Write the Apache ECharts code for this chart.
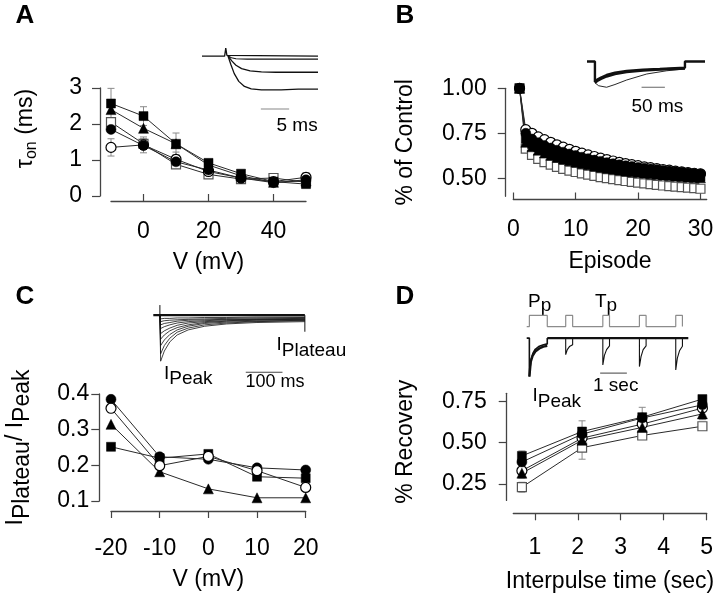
<!DOCTYPE html>
<html><head><meta charset="utf-8">
<script src="https://cdn.jsdelivr.net/npm/echarts@6/dist/echarts.min.js"></script>
<style>html,body{margin:0;padding:0;background:#fff}#c{width:720px;height:596px}</style>
</head><body><div id="c"></div>
<script>
const FONT = "'Liberation Sans', Arial, Helvetica, sans-serif";
const AXIS_COLOR = '#444';
const LINE_COLOR = '#2a2a2a';
const ERR_COLOR = '#8a8a8a';

// ---------- Panel A : tau_on vs V ----------
const aVoltage = [-10, 0, 10, 20, 30, 40, 50];
const aOpenCircle = [1.35, 1.42, 1.02, 0.68, 0.50, 0.40, 0.52];
const aOpenSquare = [2.05, 1.45, 0.88, 0.60, 0.47, 0.50, 0.38];
const aFilledCircle = [1.85, 1.40, 0.95, 0.72, 0.50, 0.37, 0.45];
const aFilledTriangle = [2.40, 1.88, 1.45, 0.86, 0.56, 0.38, 0.42];
const aFilledSquare = [2.57, 2.22, 1.45, 0.92, 0.62, 0.40, 0.33];
const aFilledSquareErr = [0.42, 0.26, 0.30, 0.10, 0.06, 0.05, 0.05];
const aOpenCircleErr = [0.24, 0.22, 0.20, 0.08, 0.05, 0.05, 0.13];
const aOpenSquareErr = [0.12, 0.14, 0.10, 0.05, 0.04, 0.05, 0.04];
const aXTicks = [0, 20, 40];
const aYTicks = [0, 1, 2, 3];

// ---------- Panel B : % of control vs episode ----------
const bEpisode = [1,2,3,4,5,6,7,8,9,10,11,12,13,14,15,16,17,18,19,20,21,22,23,24,25,26,27,28,29,30];
const bOpenSquare = [1.00,0.665,0.63,0.608,0.59,0.576,0.563,0.552,0.543,0.535,0.527,0.52,0.513,0.507,0.501,0.495,0.49,0.485,0.48,0.476,0.472,0.468,0.464,0.46,0.457,0.454,0.451,0.448,0.445,0.442];
const bOpenCircle = [1.00,0.77,0.75,0.73,0.715,0.70,0.686,0.673,0.661,0.65,0.64,0.63,0.621,0.612,0.604,0.596,0.589,0.582,0.576,0.57,0.564,0.559,0.554,0.549,0.545,0.54,0.536,0.532,0.528,0.525];
const bFilledTriangle = [1.00,0.70,0.675,0.656,0.641,0.628,0.617,0.607,0.598,0.59,0.582,0.575,0.568,0.562,0.556,0.551,0.546,0.541,0.537,0.533,0.529,0.525,0.522,0.519,0.516,0.513,0.51,0.507,0.505,0.503];
const bFilledSquare = [1.00,0.72,0.69,0.672,0.657,0.644,0.632,0.621,0.611,0.602,0.594,0.586,0.579,0.572,0.566,0.56,0.555,0.55,0.545,0.541,0.537,0.533,0.529,0.526,0.523,0.52,0.517,0.514,0.511,0.509];
const bFilledCircle = [1.00,0.75,0.718,0.698,0.682,0.668,0.656,0.645,0.635,0.626,0.617,0.609,0.601,0.594,0.587,0.581,0.575,0.57,0.565,0.56,0.556,0.552,0.548,0.544,0.54,0.536,0.533,0.53,0.527,0.524];
const bOpenSquareErr = [0.005,0.02,0.02,0.018,0.018,0.017,0.017,0.016,0.016,0.016,0.015,0.015,0.015,0.015,0.015,0.015,0.015,0.015,0.015,0.015,0.015,0.015,0.015,0.015,0.015,0.015,0.015,0.015,0.015,0.015];
const bFilledErr = [0.005,0.02,0.02,0.02,0.02,0.02,0.02,0.02,0.02,0.02,0.02,0.02,0.02,0.02,0.02,0.02,0.02,0.02,0.02,0.02,0.02,0.02,0.02,0.02,0.02,0.02,0.02,0.02,0.02,0.02];
const bXTicks = [0, 10, 20, 30];
const bYTicks = [0.5, 0.75, 1.0];

// ---------- Panel C : I_plateau / I_peak vs V ----------
const cVoltage = [-20, -10, 0, 10, 20];
const cOpenCircle = [0.36, 0.199, 0.225, 0.185, 0.138];
const cFilledTriangle = [0.315, 0.182, 0.134, 0.109, 0.109];
const cFilledSquare = [0.252, 0.22, 0.232, 0.168, 0.164];
const cFilledCircle = [0.385, 0.224, 0.217, 0.193, 0.187];
const cXTicks = [-20, -10, 0, 10, 20];
const cYTicks = [0.1, 0.2, 0.3, 0.4];

// ---------- Panel D : % recovery vs interpulse time ----------
const dInterval = [0.7, 2.1, 3.5, 4.9];
const dOpenSquare = [0.23, 0.47, 0.544, 0.60];
const dOpenCircle = [0.33, 0.528, 0.613, 0.71];
const dFilledTriangle = [0.315, 0.515, 0.593, 0.675];
const dFilledCircle = [0.383, 0.552, 0.65, 0.73];
const dFilledSquare = [0.42, 0.568, 0.655, 0.765];
const dFilledSquareErr = [0.03, 0.065, 0.06, 0.02];
const dOpenSquareErr = [0.03, 0.07, 0.02, 0.015];
const dTriangleErr = [0.03, 0.03, 0.03, 0.035];
const dXTicks = [1, 2, 3, 4, 5];
const dYTicks = [0.25, 0.5, 0.75];

// ---------- Inset traces (time, relative current) ----------
const aInsetTrace1 = [[0,0],[4.0,0],[4.2,0.24],[4.4,0.02],[4.6,0],[20.5,0]];
const aInsetTrace2 = [[4.6,0],[5.2,-0.05],[6,-0.08],[8,-0.09],[20.5,-0.09]];
const aInsetTrace3 = [[4.6,0],[5.3,-0.15],[6,-0.27],[7,-0.37],[8.5,-0.44],[10.5,-0.47],[13,-0.48],[20.5,-0.48]];
const aInsetTrace4 = [[4.6,0],[5.1,-0.25],[5.7,-0.52],[6.5,-0.75],[7.5,-0.9],[8.7,-0.97],[10.5,-1.0],[14,-1.0],[17,-0.98],[20.5,-0.98]];
const aInsetScaleBar = [[10.4,-1.57],[15.4,-1.57]];

const bInsetThick = [[0,0],[17,0],[17,-0.82],[22,-0.72],[30,-0.64],[42,-0.54],[60,-0.45],[85,-0.38],[120,-0.33],[156,-0.3],[210,-0.25],[210,0],[253,0]];
const bInsetThick2 = [[17,-0.85],[22,-0.78],[30,-0.7],[42,-0.6],[60,-0.5],[85,-0.42],[120,-0.36],[156,-0.32],[210,-0.28]];
const bInsetThin = [[17,-0.85],[25,-0.97],[42,-1.03],[60,-0.92],[85,-0.74],[128,-0.5],[171,-0.37],[210,-0.3]];
const bInsetScaleBar = [[117,-1.03],[167,-1.03]];

const cInsetTimes = [18, 20, 30, 45, 65, 95, 140, 200, 280, 413];
const cInsetTraces = [
  [0,-1.0,-0.78,-0.58,-0.43,-0.32,-0.24,-0.19,-0.16,-0.14],
  [0,-0.84,-0.66,-0.5,-0.37,-0.28,-0.21,-0.17,-0.14,-0.12],
  [0,-0.66,-0.54,-0.42,-0.32,-0.24,-0.18,-0.15,-0.13,-0.11],
  [0,-0.52,-0.43,-0.34,-0.27,-0.21,-0.16,-0.13,-0.11,-0.1],
  [0,-0.4,-0.34,-0.28,-0.22,-0.17,-0.14,-0.12,-0.1,-0.09],
  [0,-0.29,-0.25,-0.21,-0.17,-0.14,-0.12,-0.1,-0.09,-0.08],
  [0,-0.21,-0.18,-0.16,-0.13,-0.11,-0.1,-0.09,-0.08,-0.07],
  [0,-0.14,-0.12,-0.11,-0.1,-0.09,-0.08,-0.07,-0.06,-0.05],
  [0,-0.08,-0.07,-0.07,-0.06,-0.06,-0.05,-0.05,-0.04,-0.04]
];
const cInsetBaseline = [[0,0],[413,0]];
const cInsetOnsetTick = [[18,0.22],[18,0]];
const cInsetPlateauTick = [[413,0],[413,-0.36]];
const cInsetScaleBar = [[252,-1.24],[352,-1.24]];

const dInsetProtocol = [[0,0.3],[0.1,0.3],[0.1,0.59],[0.77,0.59],[0.77,0.3],[1.46,0.3],[1.46,0.59],[1.72,0.59],[1.72,0.3],[2.85,0.3],[2.85,0.59],[3.1,0.59],[3.1,0.3],[4.22,0.3],[4.22,0.59],[4.47,0.59],[4.47,0.3],[5.58,0.3],[5.58,0.59],[5.83,0.59],[5.83,0.3]];
const dInsetConditioning = [[0,0],[0.1,0],[0.1,-1.0],[0.13,-0.74],[0.17,-0.55],[0.23,-0.4],[0.32,-0.29],[0.45,-0.22],[0.6,-0.18],[0.77,-0.15],[0.77,0]];
const dInsetConditioning2 = [[0.1,-1.0],[0.15,-0.62],[0.22,-0.46],[0.32,-0.35],[0.47,-0.27],[0.62,-0.22],[0.77,-0.2]];
const dInsetBaseline = [[0.77,0],[6.05,0]];
const dInsetTest1 = [[1.46,0],[1.46,-0.43],[1.52,-0.3],[1.6,-0.22],[1.72,-0.17],[1.72,0]];
const dInsetTest2 = [[2.85,0],[2.85,-0.70],[2.91,-0.45],[2.99,-0.3],[3.1,-0.2],[3.1,0]];
const dInsetTest3 = [[4.22,0],[4.22,-0.74],[4.28,-0.48],[4.36,-0.3],[4.47,-0.2],[4.47,0]];
const dInsetTest4 = [[5.58,0],[5.58,-0.83],[5.64,-0.52],[5.72,-0.33],[5.83,-0.21],[5.83,0]];
const dInsetScaleBar = [[2.75,-0.91],[3.75,-0.91]];

// ---------- helpers ----------
const zip = (xs, ys) => xs.map((x, i) => [x, ys[i]]);

function xAx(gi, min, max, ticks, offset, inside, margin, name, nameGap, fmt) {
  return {
    gridIndex: gi, type: 'value', position: 'bottom', min: min, max: max, offset: offset,
    axisLine: { show: true, onZero: false, lineStyle: { color: AXIS_COLOR, width: 1.3 } },
    axisTick: { show: true, inside: inside, length: 7, customValues: ticks, lineStyle: { color: AXIS_COLOR, width: 1.2 } },
    axisLabel: { show: true, customValues: ticks, margin: margin, formatter: fmt, fontSize: 23, lineHeight: 23, color: '#000', fontFamily: FONT },
    splitLine: { show: false }, minorTick: { show: false },
    name: name, nameLocation: 'middle', nameGap: nameGap, nameMoveOverlap: false,
    nameTextStyle: { fontSize: 23, lineHeight: 23, color: '#000', fontFamily: FONT }
  };
}
function yAx(gi, min, max, ticks, offset, margin, name, nameGap, fmt, nameStyle) {
  return {
    gridIndex: gi, type: 'value', position: 'left', min: min, max: max, offset: offset,
    axisLine: { show: true, onZero: false, lineStyle: { color: AXIS_COLOR, width: 1.3 } },
    axisTick: { show: true, inside: false, length: 8, customValues: ticks, lineStyle: { color: AXIS_COLOR, width: 1.2 } },
    axisLabel: { show: true, customValues: ticks, margin: margin, formatter: fmt, fontSize: 23, lineHeight: 23, color: '#000', fontFamily: FONT },
    splitLine: { show: false }, minorTick: { show: false },
    name: name, nameLocation: 'middle', nameGap: nameGap, nameMoveOverlap: false,
    nameTextStyle: Object.assign({ fontSize: 23, lineHeight: 23, color: '#000', fontFamily: FONT }, nameStyle || {})
  };
}
function hx(gi, min, max) { return { gridIndex: gi, type: 'value', min: min, max: max, show: false, splitLine: { show: false } }; }

function markerSeries(gi, xs, ys, kind, size) {
  const filled = kind.indexOf('filled') === 0;
  const shape = kind.indexOf('Circle') > 0 ? 'circle' : (kind.indexOf('Square') > 0 ? 'rect' : 'triangle');
  const edge = kind === 'openSquare' ? '#555' : '#000';
  return {
    type: 'line', xAxisIndex: gi, yAxisIndex: gi, data: zip(xs, ys),
    symbol: shape, symbolSize: size, showSymbol: true, clip: false, silent: true, z: 3,
    lineStyle: { color: LINE_COLOR, width: 1 },
    itemStyle: filled ? { color: '#000', borderColor: '#000', borderWidth: 0.5 } : { color: '#fff', borderColor: edge, borderWidth: 1.2 },
    emphasis: { disabled: true }
  };
}
function errorBars(gi, xs, ys, errs) {
  return {
    type: 'custom', coordinateSystem: 'cartesian2d', xAxisIndex: gi, yAxisIndex: gi, silent: true, z: 1, clip: false,
    data: xs.map((x, i) => [x, ys[i] - errs[i], ys[i] + errs[i]]),
    encode: { x: 0, y: [1, 2] },
    renderItem: function (params, api) {
      const x = api.value(0);
      const lo = api.coord([x, api.value(1)]);
      const hi = api.coord([x, api.value(2)]);
      const cap = 3.5;
      const st = { stroke: ERR_COLOR, lineWidth: 1 };
      return { type: 'group', children: [
        { type: 'line', shape: { x1: lo[0], y1: lo[1], x2: hi[0], y2: hi[1] }, style: st },
        { type: 'line', shape: { x1: lo[0] - cap, y1: lo[1], x2: lo[0] + cap, y2: lo[1] }, style: st },
        { type: 'line', shape: { x1: hi[0] - cap, y1: hi[1], x2: hi[0] + cap, y2: hi[1] }, style: st }
      ] };
    }
  };
}
function trace(gi, pts, width, color) {
  return { type: 'line', xAxisIndex: gi, yAxisIndex: gi, data: pts, showSymbol: false, symbol: 'none', clip: false, silent: true, z: 2,
    lineStyle: { color: color || '#111', width: width || 1.1 }, emphasis: { disabled: true } };
}

const richSub = (size, pad) => ({
  m: { fontSize: 23, lineHeight: 24, color: '#000', fontFamily: FONT },
  s: { fontSize: size, lineHeight: size + 1, color: '#000', fontFamily: FONT, padding: [pad, 0, 0, 0] }
});

const grids = [
  { left: 111, top: 88, width: 195, height: 108 },
  { left: 513.3, top: 88.3, width: 193.4, height: 108 },
  { left: 111, top: 394, width: 194.7, height: 107 },
  { left: 513.3, top: 393.3, width: 193.4, height: 107.1 },
  { left: 202, top: 46, width: 116, height: 64 },
  { left: 587, top: 55, width: 118, height: 35 },
  { left: 153.3, top: 300, width: 153.4, height: 75 },
  { left: 526.7, top: 312, width: 161.6, height: 68 }
].map(g => Object.assign({ containLabel: false, outerBoundsMode: 'none', show: false }, g));

const xAxes = [
  xAx(0, -10, 50, aXTicks, 5, true, 19, 'V (mV)', 50.5),
  xAx(1, 0, 31, bXTicks, 3.2, true, 19, 'Episode', 50.7),
  xAx(2, -20, 20, cXTicks, 10, false, 26, 'V (mV)', 57.5),
  xAx(3, 0.5, 5, dXTicks, 12.9, false, 23, 'Interpulse time (sec)', 56.9),
  hx(4, 0, 20.5), hx(5, 0, 253), hx(6, 0, 418), hx(7, 0, 6.05)
];
const yAxes = [
  yAx(0, 0, 3, aYTicks, 11, 18, '{m|τ}{s|on}{m| (ms)}', 62, null, { rich: richSub(16, 12), padding: [0, 0, 0, 27] }),
  yAx(1, 0.4, 1.0, bYTicks, 7.6, 19, '% of Control', 89, v => v.toFixed(2)),
  yAx(2, 0.1, 0.4, cYTicks, 11.7, 10, '{m|I}{s|Plateau}{m|/ I}{s|Peak}', 72, v => v.toFixed(1), { rich: richSub(23, 14) }),
  yAx(3, 0.15, 0.8, dYTicks, 6.6, 20, '% Recovery', 90, v => v.toFixed(2), { padding: [0, 0, 0, 10] }),
  hx(4, -1.6, 0.3), hx(5, -1.14, 0.26), hx(6, -1.3, 0.33), hx(7, -1.09, 0.68)
];

const series = [
  // Panel A
  errorBars(0, aVoltage, aOpenSquare, aOpenSquareErr),
  errorBars(0, aVoltage, aOpenCircle, aOpenCircleErr),
  errorBars(0, aVoltage, aFilledSquare, aFilledSquareErr),
  markerSeries(0, aVoltage, aOpenSquare, 'openSquare', 9),
  markerSeries(0, aVoltage, aOpenCircle, 'openCircle', 10),
  markerSeries(0, aVoltage, aFilledCircle, 'filledCircle', 10),
  markerSeries(0, aVoltage, aFilledTriangle, 'filledTriangle', 10),
  markerSeries(0, aVoltage, aFilledSquare, 'filledSquare', 9),
  // Panel B
  errorBars(1, bEpisode, bOpenSquare, bOpenSquareErr),
  errorBars(1, bEpisode, bFilledTriangle, bFilledErr),
  markerSeries(1, bEpisode, bOpenSquare, 'openSquare', 9),
  markerSeries(1, bEpisode, bOpenCircle, 'openCircle', 10),
  markerSeries(1, bEpisode, bFilledTriangle, 'filledTriangle', 10),
  markerSeries(1, bEpisode, bFilledSquare, 'filledSquare', 9),
  markerSeries(1, bEpisode, bFilledCircle, 'filledCircle', 10),
  // Panel C
  markerSeries(2, cVoltage, cFilledTriangle, 'filledTriangle', 10),
  markerSeries(2, cVoltage, cFilledSquare, 'filledSquare', 9),
  markerSeries(2, cVoltage, cFilledCircle, 'filledCircle', 10),
  markerSeries(2, cVoltage, cOpenCircle, 'openCircle', 10),
  // Panel D
  errorBars(3, dInterval, dOpenSquare, dOpenSquareErr),
  errorBars(3, dInterval, dFilledTriangle, dTriangleErr),
  errorBars(3, dInterval, dFilledSquare, dFilledSquareErr),
  markerSeries(3, dInterval, dOpenSquare, 'openSquare', 9),
  markerSeries(3, dInterval, dOpenCircle, 'openCircle', 10),
  markerSeries(3, dInterval, dFilledTriangle, 'filledTriangle', 10),
  markerSeries(3, dInterval, dFilledCircle, 'filledCircle', 10),
  markerSeries(3, dInterval, dFilledSquare, 'filledSquare', 9),
  // Inset A
  trace(4, aInsetTrace1, 1.3), trace(4, aInsetTrace2, 1.1), trace(4, aInsetTrace3, 1.3), trace(4, aInsetTrace4, 1.3),
  trace(4, aInsetScaleBar, 1.2, '#888'),
  // Inset B
  trace(5, bInsetThick, 2.4), trace(5, bInsetThick2, 2.4), trace(5, bInsetThin, 0.9),
  trace(5, bInsetScaleBar, 1.2, '#666'),
  // Inset C
  trace(6, cInsetBaseline, 2.2), trace(6, cInsetOnsetTick, 1), trace(6, cInsetPlateauTick, 1),
  ...cInsetTraces.map(vals => trace(6, zip(cInsetTimes, vals), 0.8)),
  trace(6, cInsetScaleBar, 1.1, '#444'),
  // Inset D
  trace(7, dInsetProtocol, 1.2, '#8c8c8c'),
  trace(7, dInsetConditioning, 1.6), trace(7, dInsetConditioning2, 2.4),
  trace(7, dInsetBaseline, 2.4),
  trace(7, dInsetTest1, 1.1), trace(7, dInsetTest2, 1.1), trace(7, dInsetTest3, 1.1), trace(7, dInsetTest4, 1.1),
  trace(7, dInsetScaleBar, 1.2, '#666')
];

const txt = (x, y, text, size, extra) => ({ type: 'text', x: x, y: y, silent: true,
  style: Object.assign({ text: text, fontSize: size, fontFamily: FONT, fill: '#000', align: 'left', verticalAlign: 'middle' }, extra || {}) });
const subRich = (size, pad) => ({
  m: { fontSize: size, lineHeight: size + 1, fontFamily: FONT, fill: '#000' },
  s: { fontSize: size, lineHeight: size + 1, fontFamily: FONT, fill: '#000', padding: [pad, 0, 0, 0] }
});

const graphic = [
  txt(25, 16, 'A', 26, { fontWeight: 'bold', align: 'center' }),
  txt(405, 16, 'B', 26, { fontWeight: 'bold', align: 'center' }),
  txt(25, 297, 'C', 26, { fontWeight: 'bold', align: 'center' }),
  txt(405, 297, 'D', 26, { fontWeight: 'bold', align: 'center' }),
  txt(276.5, 126, '5 ms', 19),
  txt(631.5, 106.7, '50 ms', 19),
  txt(164, 373.3, '{m|I}{s|Peak}', 19, { rich: subRich(19, 11) }),
  txt(276.5, 345, '{m|I}{s|Plateau}', 19, { rich: subRich(19, 11) }),
  txt(245.5, 382.5, '100 ms', 18),
  txt(528, 301.7, '{m|P}{s|p}', 19, { rich: subRich(19, 9) }),
  txt(595, 301.7, '{m|T}{s|p}', 19, { rich: subRich(19, 9) }),
  txt(593, 385.5, '1 sec', 19),
  txt(532.5, 395.8, '{m|I}{s|Peak}', 19, { rich: subRich(19, 11) })
];

const chart = echarts.init(document.getElementById('c'), null, { renderer: 'canvas' });
chart.setOption({
  animation: false,
  backgroundColor: '#fff',
  textStyle: { fontFamily: FONT },
  grid: grids,
  xAxis: xAxes,
  yAxis: yAxes,
  series: series,
  graphic: graphic
});
</script>
</body></html>
